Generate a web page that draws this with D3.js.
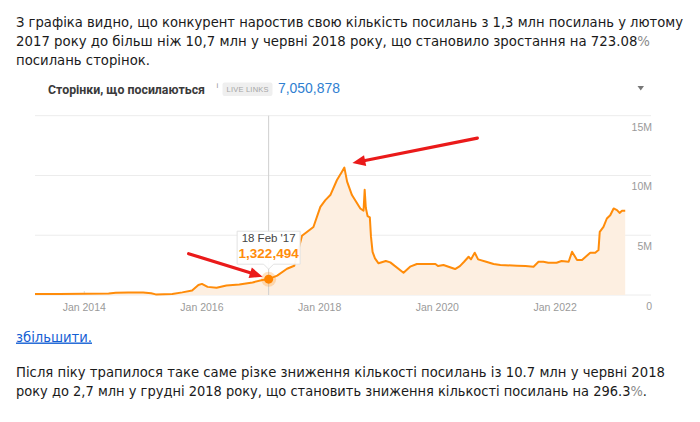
<!DOCTYPE html>
<html>
<head>
<meta charset="utf-8">
<script src="https://cdn.jsdelivr.net/npm/d3@7"></script>
<style>
  body { margin: 0; background: #fff; }
  .para { font-family: "DejaVu Sans Condensed", "DejaVu Sans", sans-serif; font-stretch: condensed; font-size: 14px; fill: #1a1a1a; }
  .axis-label { font-family: "Liberation Sans", Arial, sans-serif; font-size: 10.5px; fill: #9a9a9a; }
</style>
</head>
<body>
<script>
// дані графіка (посилання, млн)
var dates = [
  "2013-03-01", "2013-08-01", "2014-01-01", "2014-06-01", "2014-07-15", "2014-10-01",
  "2015-01-01", "2015-02-20", "2015-03-20", "2015-07-01", "2015-09-01", "2015-11-01",
  "2015-12-10", "2016-01-01", "2016-02-05", "2016-04-01", "2016-06-01", "2016-08-20",
  "2016-11-10", "2017-01-10", "2017-02-18", "2017-04-12", "2017-06-12", "2017-07-27",
  "2017-08-20", "2017-09-13", "2017-11-23", "2018-01-05", "2018-02-05", "2018-03-08",
  "2018-04-18", "2018-05-19", "2018-06-03", "2018-06-20", "2018-07-20", "2018-09-10",
  "2018-09-30", "2018-10-07", "2018-10-14", "2018-10-25", "2018-11-08", "2018-11-15",
  "2018-11-25", "2018-12-10", "2019-01-01", "2019-02-15", "2019-03-15", "2019-06-05",
  "2019-07-16", "2019-08-27", "2019-12-20", "2020-01-05", "2020-02-08", "2020-04-20",
  "2020-05-20", "2020-06-15", "2020-07-13", "2020-07-28", "2020-08-20", "2020-09-10",
  "2020-10-30", "2020-12-15", "2021-01-26", "2021-05-10", "2021-07-01", "2021-08-20",
  "2021-09-20", "2021-10-20", "2021-11-20", "2022-01-10", "2022-02-10", "2022-03-26",
  "2022-04-16", "2022-05-17", "2022-06-17", "2022-08-07", "2022-09-07", "2022-09-27",
  "2022-10-05", "2022-10-28", "2022-11-18", "2022-12-09", "2022-12-30", "2023-01-20",
  "2023-02-05", "2023-02-20", "2023-03-12"
];
var values = [
  0.08, 0.08, 0.10, 0.12, 0.18, 0.20,
  0.20, 0.14, 0.05, 0.08, 0.22, 0.38,
  0.84, 0.93, 0.68, 0.60, 0.80, 0.88,
  1.05, 1.25, 1.322494, 1.62, 2.20, 2.45,
  3.70, 4.95, 5.69, 7.37, 7.94, 8.36,
  9.62, 10.32, 10.66, 9.48, 8.36, 7.24,
  7.05, 8.80, 7.30, 6.60, 6.50, 4.90,
  3.60, 3.07, 2.65, 2.85, 2.73, 1.86,
  2.37, 2.59, 2.59, 2.42, 2.51, 2.17,
  2.42, 2.78, 3.20, 2.98, 3.54, 2.98,
  2.78, 2.59, 2.51, 2.45, 2.42, 2.37,
  2.78, 2.78, 2.70, 2.70, 2.84, 2.78,
  3.62, 2.93, 2.93, 3.54, 3.54, 3.76,
  5.29, 5.69, 6.40, 6.67, 7.24, 7.10,
  6.87, 7.05, 7.05
];
var yTicks = [0, 5, 10, 15];
var yTickLabels = ["0", "5M", "10M", "15M"];
var xTickDates = ["2014-01-01", "2016-01-01", "2018-01-01", "2020-01-01", "2022-01-01"];
var xTickLabels = ["Jan 2014", "Jan 2016", "Jan 2018", "Jan 2020", "Jan 2022"];
var tipDate = "2017-02-18";
var tipValue = 1.322494;
var tipTitle = "18 Feb '17";
var tipText = "1,322,494";
var peakDate = "2018-06-03";
var peakValue = 10.66;
var headerTitle = "Сторінки, що посилаються";
var headerTotal = "7,050,878";
var paragraph1 = [
  "З графіка видно, що конкурент наростив свою кількість посилань з 1,3 млн посилань у лютому",
  "2017 року до більш ніж 10,7 млн у червні 2018 року, що становило зростання на 723.08%",
  "посилань сторінок."
];
var paragraph2 = [
  "Після піку трапилося таке саме різке зниження кількості посилань із 10.7 млн у червні 2018",
  "року до 2,7 млн у грудні 2018 року, що становить зниження кількості посилань на 296.3%."
];
var linkText = "збільшити.";

var parse = d3.timeParse("%Y-%m-%d");
var data = dates.map(function (d, i) { return { date: parse(d), value: values[i] }; });

var svg = d3.select("body").append("svg")
  .attr("width", 700)
  .attr("height", 422);

// текст зверху
function drawParagraph(lines, y0, widths) {
  lines.forEach(function (line, i) {
    var t = svg.append("text")
      .attr("class", "para")
      .attr("x", 16)
      .attr("y", y0 + i * 19.2)
      .attr("textLength", widths[i])
      .attr("lengthAdjust", "spacingAndGlyphs");
    var pct = line.indexOf("%");
    if (pct >= 0) {  // знак % у оригіналі світліший
      t.append("tspan").text(line.slice(0, pct));
      t.append("tspan").attr("fill", "#8a8a8a").text("%");
      t.append("tspan").text(line.slice(pct + 1));
    } else {
      t.text(line);
    }
  });
}
drawParagraph(paragraph1, 26.5, [667, 634, 134]);
drawParagraph(paragraph2, 376.5, [649, 631]);

// посилання "збільшити."
svg.append("text")
  .attr("class", "para")
  .attr("x", 16)
  .attr("y", 341.5)
  .attr("textLength", 76)
  .attr("lengthAdjust", "spacingAndGlyphs")
  .style("fill", "#1560d4")
  .style("text-decoration", "underline")
  .text(linkText);

// шапка віджета
svg.append("text")
  .attr("x", 48)
  .attr("y", 93.5)
  .attr("font-family", "Roboto, 'Liberation Sans', sans-serif")
  .attr("font-weight", "bold")
  .attr("font-size", 13)
  .attr("fill", "#3a3a3a")
  .attr("textLength", 157)
  .attr("lengthAdjust", "spacingAndGlyphs")
  .text(headerTitle);
svg.append("text")
  .attr("x", 216.5)
  .attr("y", 88)
  .attr("font-family", "Liberation Sans, sans-serif")
  .attr("font-size", 8)
  .attr("fill", "#999")
  .text("i");
svg.append("rect")
  .attr("x", 222.5).attr("y", 82.5)
  .attr("width", 50).attr("height", 13.5)
  .attr("rx", 2)
  .attr("fill", "#efefef");
svg.append("text")
  .attr("x", 247.5)
  .attr("y", 92)
  .attr("text-anchor", "middle")
  .attr("font-family", "Liberation Sans, sans-serif")
  .attr("font-size", 7.5)
  .attr("fill", "#a5a5a5")
  .attr("textLength", 42)
  .text("LIVE LINKS");
svg.append("text")
  .attr("x", 278)
  .attr("y", 93)
  .attr("font-family", "'Liberation Sans', Arial, sans-serif")
  .attr("font-size", 15.5)
  .attr("fill", "#2f80d1")
  .attr("textLength", 62)
  .attr("lengthAdjust", "spacingAndGlyphs")
  .text(headerTotal);
svg.append("path")  // стрілка меню
  .attr("d", "M637.5,86 L644,86 L640.75,90.5 Z")
  .attr("fill", "#777");

// шкали
var x = d3.scaleTime()
  .domain([parse("2013-03-01"), parse("2023-08-19")])
  .range([35, 651]);
var y = d3.scaleLinear()
  .domain([0, 15])
  .range([295, 115.7]);

// сітка
svg.append("g")
  .selectAll("line")
  .data(yTicks)
  .enter()
  .append("line")
  .attr("x1", x.range()[0])
  .attr("x2", x.range()[1])
  .attr("y1", function (d) { return y(d); })
  .attr("y2", function (d) { return y(d); })
  .attr("stroke", "#ececec")
  .attr("stroke-width", 1);

// підписи осі Y
svg.append("g")
  .selectAll("text")
  .data(yTicks)
  .enter()
  .append("text")
  .attr("class", "axis-label")
  .attr("x", x.range()[1] + 1)
  .attr("y", function (d) { return y(d) + 15; })
  .attr("text-anchor", "end")
  .text(function (d, i) { return yTickLabels[i]; });

// вісь X: короткі риски та підписи
var xTicks = xTickDates.map(parse);
svg.append("g")
  .selectAll("line")
  .data(xTicks)
  .enter()
  .append("line")
  .attr("x1", function (d) { return x(d); })
  .attr("x2", function (d) { return x(d); })
  .attr("y1", y(0) - 4)
  .attr("y2", y(0))
  .attr("stroke", "#dcdcdc");
svg.append("g")
  .selectAll("text")
  .data(xTicks)
  .enter()
  .append("text")
  .attr("class", "axis-label")
  .attr("x", function (d) { return x(d); })
  .attr("y", 311)
  .attr("text-anchor", "middle")
  .text(function (d, i) { return xTickLabels[i]; });

// область та лінія
var area = d3.area()
  .x(function (d) { return x(d.date); })
  .y0(y(0))
  .y1(function (d) { return y(d.value); });
var line = d3.line()
  .x(function (d) { return x(d.date); })
  .y(function (d) { return y(d.value); });

svg.append("path")
  .datum(data)
  .attr("d", area)
  .attr("fill", "#fdefe1");

// вертикальна лінія наведення
var tx = x(parse(tipDate));
var ty = y(tipValue);
svg.append("line")
  .attr("x1", tx).attr("x2", tx)
  .attr("y1", y(15)).attr("y2", y(0))
  .attr("stroke", "#cfcfcf")
  .attr("stroke-width", 1);

svg.append("path")
  .datum(data)
  .attr("d", line)
  .attr("fill", "none")
  .attr("stroke", "#ff8c0a")
  .attr("stroke-width", 2)
  .attr("stroke-linejoin", "round");

// точка
svg.append("circle")
  .attr("cx", tx).attr("cy", ty)
  .attr("r", 7.5)
  .attr("fill", "#ff8c0a")
  .attr("fill-opacity", 0.25);
svg.append("circle")
  .attr("cx", tx).attr("cy", ty)
  .attr("r", 4.5)
  .attr("fill", "#ff8400");

// підказка
var tipW = 63, tipH = 33;
var tipBottom = ty - 15;
var tip = svg.append("g");
tip.append("path")
  .attr("d",
    "M" + (tx - tipW / 2) + "," + (tipBottom - tipH) +
    " h" + tipW + " v" + tipH +
    " H" + (tx + 5) + " L" + tx + "," + (tipBottom + 5) + " L" + (tx - 5) + "," + tipBottom +
    " H" + (tx - tipW / 2) + " Z")
  .attr("fill", "#fff")
  .attr("fill-opacity", 0.95)
  .attr("stroke", "#e2e2e2")
  .attr("stroke-width", 1);
tip.append("text")
  .attr("x", tx)
  .attr("y", tipBottom - 22)
  .attr("text-anchor", "middle")
  .attr("font-family", "Liberation Sans, Arial, sans-serif")
  .attr("font-size", 11.5)
  .attr("fill", "#444")
  .text(tipTitle);
tip.append("text")
  .attr("x", tx)
  .attr("y", tipBottom - 6.5)
  .attr("text-anchor", "middle")
  .attr("font-family", "Liberation Sans, Arial, sans-serif")
  .attr("font-weight", "bold")
  .attr("font-size", 13.5)
  .attr("fill", "#ff8c0a")
  .text(tipText);

// червоні стрілки
function drawArrow(x1, y1, x2, y2) {
  var ang = Math.atan2(y2 - y1, x2 - x1);
  var len = 13, half = 5.5;
  var bx = x2 - len * Math.cos(ang), by = y2 - len * Math.sin(ang);
  svg.append("line")
    .attr("x1", x1).attr("y1", y1)
    .attr("x2", bx).attr("y2", by)
    .attr("stroke", "#ea1a1a")
    .attr("stroke-width", 3.2)
    .attr("stroke-linecap", "round");
  svg.append("path")
    .attr("d", "M" + x2 + "," + y2 +
      " L" + (bx + half * Math.sin(ang)) + "," + (by - half * Math.cos(ang)) +
      " L" + (bx - half * Math.sin(ang)) + "," + (by + half * Math.cos(ang)) + " Z")
    .attr("fill", "#ea1a1a");
}
drawArrow(tx - 80, ty - 25.5, tx - 6, ty - 2.5);
var px = x(parse(peakDate)), py = y(peakValue);
drawArrow(px + 133, py - 29.5, px + 8, py - 4.5);
</script>
</body>
</html>
